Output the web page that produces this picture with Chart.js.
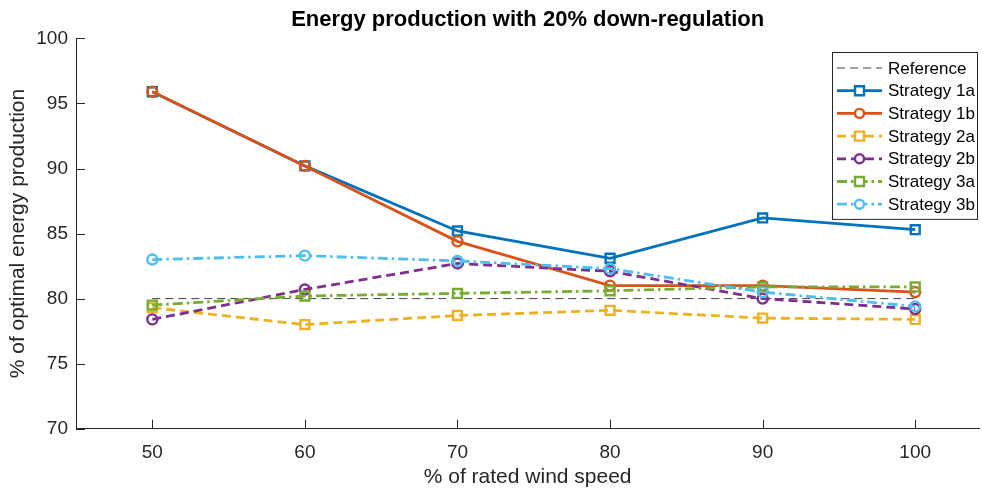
<!DOCTYPE html>
<html>
<head>
<meta charset="utf-8">
<script src="https://cdn.jsdelivr.net/npm/chart.js@4/dist/chart.umd.min.js"></script>
<style>
  html, body { margin: 0; padding: 0; background: #fff; }
  #wrap { width: 982px; height: 490px; overflow: hidden; }
</style>
</head>
<body>
<div id="wrap"><canvas id="chart" width="988" height="490"></canvas></div>
<script>
// values
const windSpeeds = [50, 60, 70, 80, 90, 100];
const reference   = [80, 80, 80, 80, 80, 80];
const strategy1a  = [95.9, 90.2, 85.2, 83.1, 86.2, 85.3];
const strategy1b  = [95.9, 90.2, 84.4, 81.0, 81.0, 80.5];
const strategy2a  = [79.3, 78.0, 78.7, 79.1, 78.5, 78.4];
const strategy2b  = [78.4, 80.7, 82.7, 82.1, 80.0, 79.2];
const strategy3a  = [79.5, 80.2, 80.4, 80.6, 80.9, 80.9];
const strategy3b  = [83.0, 83.3, 82.9, 82.3, 80.5, 79.4];
const yTicks = [70, 75, 80, 85, 90, 95, 100];

const FONT = "'Liberation Sans', Arial, sans-serif";
const AXIS = "#262626";
const DASH = [9, 5];
const DASHDOT = [10, 4, 2.5, 4];

function pts(values) {
    return windSpeeds.map((x, i) => ({ x: x, y: values[i] }));
}

function series(label, values, color, dash, marker, order) {
    return {
        label: label,
        data: pts(values),
        borderColor: color,
        backgroundColor: color,
        borderWidth: 2.8,
        borderDash: dash,
        pointStyle: marker,
        // chart.js 'rect' side is radius * sqrt(2)
        pointRadius: marker === "rect" ? 6.3 : 5,
        pointBorderWidth: 2.4,
        pointBackgroundColor: "rgba(255,255,255,0)",
        pointBorderColor: color,
        order: order,
    };
}

const datasets = [
    {
        label: "Reference",
        data: pts(reference),
        borderColor: "#404040",
        borderWidth: 1,
        borderDash: [8, 5],
        pointRadius: 0,
        pointStyle: false,
        order: 10,
    },
    series("Strategy 1a", strategy1a, "#0072BD", [], "rect", 6),
    series("Strategy 1b", strategy1b, "#D95319", [], "circle", 5),
    series("Strategy 2a", strategy2a, "#EDB120", DASH, "rect", 4),
    series("Strategy 2b", strategy2b, "#7E2F8E", DASH, "circle", 3),
    series("Strategy 3a", strategy3a, "#77AC30", DASHDOT, "rect", 2),
    series("Strategy 3b", strategy3b, "#4DBEEE", DASHDOT, "circle", 1),
];

// MATLAB style inward tick marks
const innerTicks = {
    id: "innerTicks",
    beforeDatasetsDraw(chart) {
        const { ctx, scales: { x, y } } = chart;
        ctx.save();
        ctx.strokeStyle = AXIS;
        ctx.lineWidth = 1;
        ctx.beginPath();
        x.ticks.forEach(t => {
            const px = Math.round(x.getPixelForValue(t.value)) + 0.5;
            ctx.moveTo(px, y.bottom);
            ctx.lineTo(px, y.bottom - 9);
        });
        y.ticks.forEach(t => {
            const py = Math.round(y.getPixelForValue(t.value)) + 0.5;
            ctx.moveTo(x.left, py);
            ctx.lineTo(x.left + 9, py);
        });
        ctx.stroke();
        ctx.restore();
    }
};

// legend box with line style + marker samples
const boxLegend = {
    id: "boxLegend",
    afterDraw(chart) {
        const ctx = chart.ctx;
        const left = 832, top = 52, w = 145, rowH = 22.7;
        const h = rowH * chart.data.datasets.length + 8;
        ctx.save();
        ctx.fillStyle = "#fff";
        ctx.fillRect(left, top, w, h);
        ctx.strokeStyle = "#262626";
        ctx.lineWidth = 1;
        ctx.strokeRect(left + 0.5, top + 0.5, w, h);
        chart.data.datasets.forEach((ds, i) => {
            const cy = top + 16 + i * rowH;
            ctx.strokeStyle = ds.borderColor;
            ctx.lineWidth = ds.borderWidth;
            ctx.setLineDash(ds.borderDash || []);
            ctx.beginPath();
            ctx.moveTo(left + 5, cy);
            ctx.lineTo(left + 50, cy);
            ctx.stroke();
            ctx.setLineDash([]);
            if (ds.pointStyle) {
                ctx.lineWidth = 2.4;
                ctx.fillStyle = "#fff";
                ctx.beginPath();
                if (ds.pointStyle === "rect") {
                    ctx.rect(left + 23, cy - 4.5, 9, 9);
                } else {
                    ctx.arc(left + 27.5, cy, 4.5, 0, Math.PI * 2);
                }
                ctx.fill();
                ctx.stroke();
            }
            ctx.fillStyle = "#000";
            ctx.font = "17px " + FONT;
            ctx.textBaseline = "middle";
            ctx.textAlign = "left";
            ctx.fillText(ds.label, left + 56, cy + 1);
        });
        ctx.restore();
    }
};

new Chart(document.getElementById("chart"), {
    type: "line",
    data: { datasets: datasets },
    plugins: [innerTicks, boxLegend],
    options: {
        responsive: false,
        animation: false,
        layout: { padding: { left: 0, right: 1, top: 0, bottom: 0 } },
        elements: { line: { tension: 0 } },
        plugins: {
            legend: { display: false },
            tooltip: { enabled: false },
            title: {
                display: true,
                fullSize: false,
                text: "Energy production with 20% down-regulation",
                color: "#000",
                font: { family: FONT, size: 22, weight: "bold" },
                padding: { top: 7, bottom: 5 },
            },
        },
        scales: {
            x: {
                type: "linear",
                min: 45,
                max: 104.2,
                afterBuildTicks: s => { s.ticks = windSpeeds.map(v => ({ value: v })); },
                afterFit: s => { s.height = 61.3; },
                grid: { display: true, drawOnChartArea: false, drawTicks: false },
                border: { display: true, color: AXIS, width: 1 },
                ticks: { color: AXIS, padding: 13, font: { family: FONT, size: 19 } },
                title: {
                    display: true,
                    text: "% of rated wind speed",
                    color: AXIS,
                    font: { family: FONT, size: 21 },
                    padding: { top: 0, bottom: 0 },
                },
            },
            y: {
                min: 70,
                max: 100,
                afterBuildTicks: s => { s.ticks = yTicks.map(v => ({ value: v })); },
                afterFit: s => { s.width = 76; },
                grid: { display: true, drawOnChartArea: false, drawTicks: false },
                border: { display: true, color: AXIS, width: 1 },
                ticks: { color: AXIS, padding: 8, font: { family: FONT, size: 19 } },
                title: {
                    display: true,
                    text: "% of optimal energy production",
                    color: AXIS,
                    font: { family: FONT, size: 21 },
                    padding: { top: 6, bottom: 0 },
                },
            },
        },
    },
});
</script>
</body>
</html>
